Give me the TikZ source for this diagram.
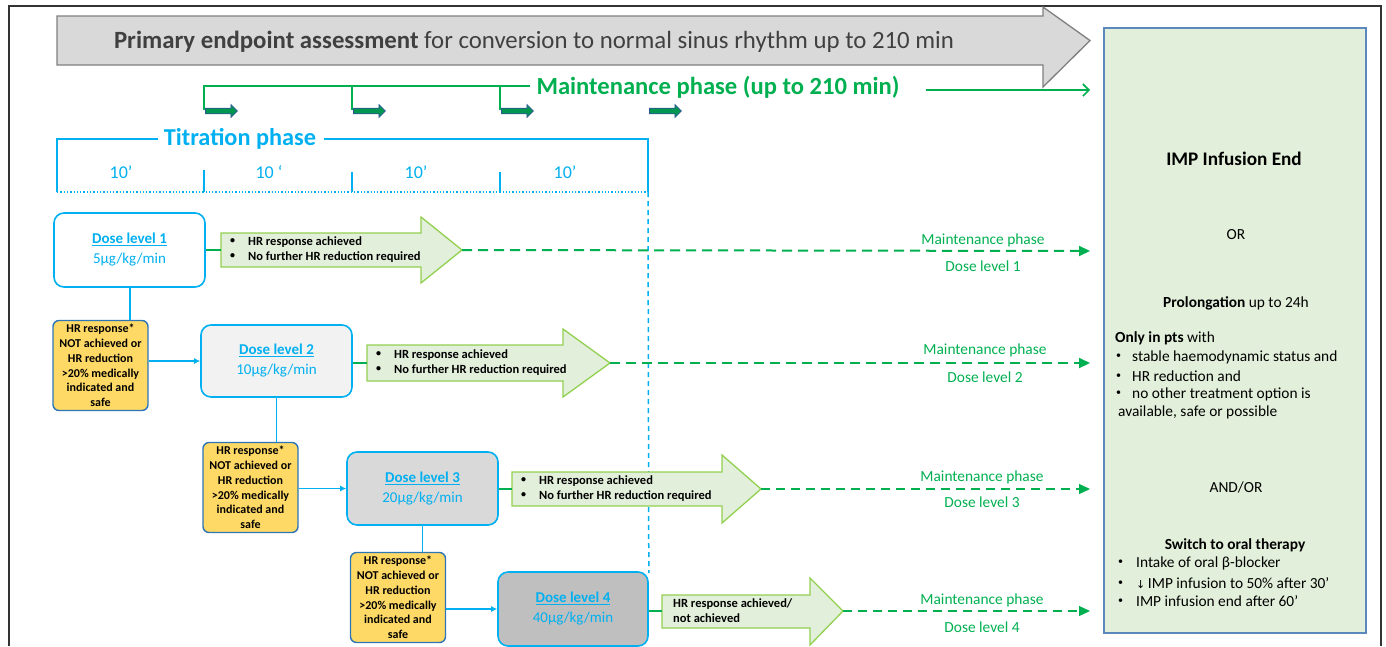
\documentclass[tikz,border=0pt]{standalone}
\usepackage{fontspec}
\setmainfont{Carlito}
\newfontfamily\symfont{DejaVu Sans}
\usetikzlibrary{shapes.arrows,arrows.meta}
\definecolor{tblue}{RGB}{0,176,240}
\definecolor{mgreen}{RGB}{0,176,80}
\definecolor{lgfill}{RGB}{226,239,218}
\definecolor{agreen}{RGB}{146,208,80}
\definecolor{yfill}{RGB}{255,217,102}
\definecolor{ydark}{RGB}{46,117,182}
\definecolor{gfill}{RGB}{217,217,217}
\definecolor{gdraw}{RGB}{127,127,127}
\definecolor{gtext}{RGB}{64,64,64}
\definecolor{rboxdraw}{RGB}{91,137,190}
\definecolor{sarrow}{RGB}{0,150,80}
\definecolor{sarrowd}{RGB}{47,85,151}
\newcommand{\smbul}{\raisebox{0.16em}{\fontsize{10}{10}\selectfont •}}
\tikzset{
  dosebox/.style={draw=tblue, line width=1.6pt, rounded corners=10pt, align=center,
    text=tblue, font=\fontsize{15}{20}\selectfont, inner sep=0pt,
    minimum width=151, minimum height=74},
  ybox/.style={draw=ydark, fill=yfill, line width=1.4pt, rounded corners=6pt, align=center,
    font=\fontsize{12}{14.8}\selectfont\bfseries, inner sep=0pt,
    minimum width=95, minimum height=90},
  garrow/.style={draw=agreen, fill=lgfill, line width=1.3pt, line join=miter},
  atext/.style={anchor=west, align=left, font=\fontsize{12.5}{15}\selectfont\bfseries, inner sep=0pt},
  bconn/.style={draw=tblue, line width=1.3pt},
  bconnarr/.style={bconn, -{Latex[length=6pt,width=6pt]}},
  gconn/.style={draw=mgreen, line width=1.3pt},
  mdash/.style={draw=mgreen, line width=2pt, dash pattern=on 10pt off 6pt, -{Triangle[length=11pt,width=10pt]}},
  mdashthin/.style={draw=mgreen, line width=1.2pt, dash pattern=on 9pt off 6pt, -{Triangle[length=11pt,width=10pt]}},
  mlabel/.style={text=mgreen, font=\fontsize{15.4}{17}\selectfont, inner sep=0pt},
  smallarrow/.style={single arrow, draw=sarrowd, fill=sarrow, line width=0.8pt,
    minimum height=32, minimum width=13, single arrow head extend=2.5pt, inner sep=1.5pt},
  rtext/.style={font=\fontsize{15.4}{19}\selectfont, inner sep=0pt},
  tick/.style={draw=tblue, line width=1.3pt},
  tenlbl/.style={text=tblue, font=\fontsize{18}{20}\selectfont, inner sep=0pt}
}
\begin{document}
\begin{tikzpicture}[x=1pt,y=-1pt]
\useasboundingbox (0,0) rectangle (1386,646);
% frame
\draw[line width=1.2pt, black!80] (9,646) -- (9,6) -- (1381,6) -- (1381,646);

% primary endpoint arrow
\draw[fill=gfill, draw=gdraw, line width=1.3pt, line join=miter]
  (57,16) -- (1043,16) -- (1043,7) -- (1090,40.5) -- (1043,87) -- (1043,65) -- (57,65) -- cycle;
\node[text=gtext, font=\fontsize{24.8}{28}\selectfont, inner sep=0pt] (prim) at (534,42)
  {\textbf{Primary endpoint assessment} for conversion to normal sinus rhythm up to 210 min};

% maintenance bracket
\node[text=mgreen, font=\fontsize{24.6}{28}\selectfont\bfseries, inner sep=0pt] (maint) at (718,87)
  {Maintenance phase (up to 210 min)};
\coordinate (mt1) at (204,110);
\coordinate (mt2) at (352,110);
\coordinate (mt3) at (500,110);
\coordinate (mtop) at (204,86);
\draw[gconn] (mt1) -- (mtop) -- ([xshift=-6pt]maint.west |- mtop);
\draw[gconn] (mt2) -- (mt2 |- mtop);
\draw[gconn] (mt3) -- (mt3 |- mtop);
\coordinate (mend) at (1090,90);
\draw[draw=mgreen, line width=1.6pt, -{Straight Barb[length=6pt,width=12pt]}] ([xshift=26pt]maint.east |- mend) -- (mend);
\node[smallarrow] (sa1) at (220,111) {};
\node[smallarrow] (sa2) at (368,111) {};
\node[smallarrow] (sa3) at (516,111) {};
\node[smallarrow] (sa4) at (664,111) {};

% titration bracket
\node[text=tblue, font=\fontsize{24.3}{28}\selectfont\bfseries, inner sep=0pt] (titr) at (240,139) {Titration phase};
\coordinate (tl) at (57,192);
\coordinate (tr) at (648,192);
\draw[tick] (tl) -- (57,139) -- ([xshift=-6pt]titr.west |- 0,139);
\draw[tick] ([xshift=8pt]titr.east |- 0,139) -- (648,139) -- (tr);
\draw[draw=tblue, line width=1.3pt, dotted] (tl) -- (tr);
\draw[tick] (204,170) -- (204,192);
\draw[tick] (352,172) -- (352,192);
\draw[tick] (500,172) -- (500,192);
\node[tenlbl] (t1) at (121,172) {10’};
\node[tenlbl] (t2) at (269,172) {10 ‘};
\node[tenlbl] (t3) at (416,172) {10’};
\node[tenlbl] (t4) at (565,172) {10’};

% dose boxes
\node[dosebox, fill=white] (d1) at (129.5,250) {\underline{\textbf{Dose level 1}}\\5µg/kg/min};
\node[dosebox, fill=black!5, minimum height=72] (d2) at (276.5,361) {\underline{\textbf{Dose level 2}}\\10µg/kg/min};
\node[dosebox, fill=gfill, minimum height=73] (d3) at (422.5,488.5) {\underline{\textbf{Dose level 3}}\\20µg/kg/min};
\node[dosebox, fill=black!25, minimum width=150] (d4) at (573,609) {\underline{\textbf{Dose level 4}}\\40µg/kg/min};

% vertical dashed line
\draw[draw=tblue, line width=1.5pt, dash pattern=on 5pt off 4pt] (tr) -- (d4.north east |- 0,573);

% yellow boxes
\node[ybox] (y1) at (100.5,365.5) {HR response*\\NOT achieved or\\HR reduction\\>20\% medically\\indicated and\\safe};
\node[ybox] (y2) at (250.5,487.5) {HR response*\\NOT achieved or\\HR reduction\\>20\% medically\\indicated and\\safe};
\node[ybox] (y3) at (398,597.5) {HR response*\\NOT achieved or\\HR reduction\\>20\% medically\\indicated and\\safe};

% blue connectors
\draw[bconn] (d1.south -| 130,0) -- (130,0 |- y1.north);
\draw[bconnarr] (y1.east |- d2.west) -- (d2.west);
\draw[bconn] (d2.south) -- (d2.south |- y2.north);
\draw[bconnarr] (y2.east |- d3.west) -- (d3.west);
\draw[bconn] (d3.south) -- (d3.south |- y3.north);
\draw[bconnarr] (y3.east |- d4.west) -- (d4.west);

% green block arrows
\draw[garrow] (221,233) -- (421,233) -- (421,217) -- (462,250) -- (421,283) -- (421,267) -- (221,267) -- cycle;
\coordinate (a1tail) at (221,250); \coordinate (a1tip) at (462,250);
\draw[garrow] (367,345) -- (563,345) -- (563,329) -- (610,363) -- (563,397) -- (563,381) -- (367,381) -- cycle;
\coordinate (a2tail) at (367,363); \coordinate (a2tip) at (610,363);
\draw[garrow] (512,472) -- (722,472) -- (722,455) -- (761,489) -- (722,523) -- (722,506) -- (512,506) -- cycle;
\coordinate (a3tail) at (512,489); \coordinate (a3tip) at (761,489);
\draw[garrow] (662,595) -- (810,595) -- (810,578) -- (843,611) -- (810,645) -- (810,628) -- (662,628) -- cycle;
\coordinate (a4tail) at (662,611); \coordinate (a4tip) at (843,611);

\draw[gconn] (d1.east) -- (a1tail);
\draw[gconn] (d2.east |- a2tail) -- (a2tail);
\draw[gconn] (d3.east |- a3tail) -- (a3tail);
\draw[gconn] (d4.east |- a4tail) -- (a4tail);

\node[atext] (x1) at (230,250) {\begin{tabular}{@{}l@{\hspace{13pt}}l@{}}\smbul&HR response achieved\\\smbul&No further HR reduction required\end{tabular}};
\node[atext] (x2) at (376,363) {\begin{tabular}{@{}l@{\hspace{13pt}}l@{}}\smbul&HR response achieved\\\smbul&No further HR reduction required\end{tabular}};
\node[atext] (x3) at (521,489) {\begin{tabular}{@{}l@{\hspace{13pt}}l@{}}\smbul&HR response achieved\\\smbul&No further HR reduction required\end{tabular}};
\node[atext] (x4) at (673,611) {HR response achieved/\\not achieved};

% dashed maintenance lines
\coordinate (e1) at (1090,251);
\coordinate (e2) at (1090,363);
\coordinate (e3) at (1090,489);
\coordinate (e4) at (1090,611);
\draw[mdash] (a1tip) -- (e1);
\draw[mdash] (a2tip) -- (e2);
\draw[mdashthin] (a3tip) -- (e3);
\draw[mdashthin] (a4tip) -- (e4);
\node[mlabel] (m1) at (983,240) {Maintenance phase};
\node[mlabel] (n1) at (983,266) {Dose level 1};
\node[mlabel] (m2) at (985,350) {Maintenance phase};
\node[mlabel] (n2) at (985,377) {Dose level 2};
\node[mlabel] (m3) at (982,477) {Maintenance phase};
\node[mlabel] (n3) at (982,502) {Dose level 3};
\node[mlabel] (m4) at (982,600) {Maintenance phase};
\node[mlabel] (n4) at (982,627) {Dose level 4};

% right box
\node[draw=rboxdraw, fill=lgfill, line width=1.3pt, minimum width=262, minimum height=605, inner sep=0pt] (rb) at (1235,330.5) {};
\node[rtext, font=\fontsize{19.2}{22}\selectfont\bfseries] (r1) at (1234,159) {IMP Infusion End};
\node[rtext] (r2) at (1236,235) {OR};
\node[rtext] (r3) at (1236,303) {\textbf{Prolongation} up to 24h};
\node[rtext, anchor=west] (r4) at (1115,338) {\textbf{Only in pts} with};
\node[rtext, anchor=west] (r5) at (1116,357) {\smbul\hspace{11pt}stable haemodynamic status and};
\node[rtext, anchor=west] (r6) at (1116,376) {\smbul\hspace{11pt}HR reduction and};
\node[rtext, anchor=west] (r7) at (1116,394) {\smbul\hspace{11pt}no other treatment option is};
\node[rtext, anchor=west] (r8) at (1118,412) {available, safe or possible};
\node[rtext] (r9) at (1236,487) {AND/OR};
\node[rtext, font=\fontsize{15.4}{19}\selectfont\bfseries] (r10) at (1235,545) {Switch to oral therapy};
\node[rtext, anchor=west] (r11) at (1118,563) {\smbul\hspace{13pt}Intake of oral β-blocker};
\node[rtext, anchor=west] (r12) at (1118,583) {\smbul\hspace{13pt}{\symfont\fontsize{11}{14}\selectfont ↓}\,IMP infusion to 50\% after 30’};
\node[rtext, anchor=west] (r13) at (1118,601) {\smbul\hspace{13pt}IMP infusion end after 60’};
\end{tikzpicture}
\end{document}
